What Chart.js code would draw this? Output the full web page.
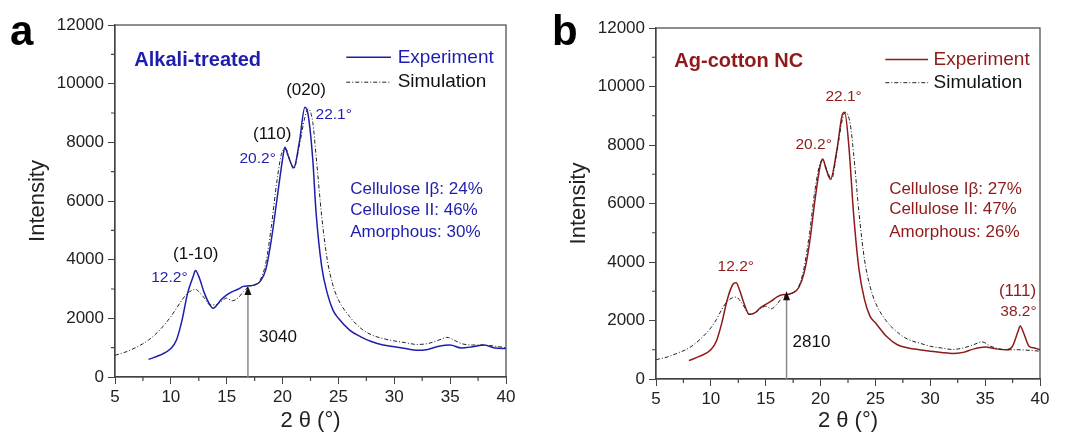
<!DOCTYPE html>
<html lang="en">
<head>
<meta charset="UTF-8">
<title>XRD cellulose</title>
<script src="https://cdn.jsdelivr.net/npm/chart.js"></script>
<style>
  body {
    margin: 0;
    background: #fff;
    width: 1069px;
    height: 438px;
    position: relative;
    overflow: hidden;
  }

  .pane {
    position: absolute;
    top: 0;
    height: 438px;
  }

  #pa { left: 0; width: 530px; }
  #pb { left: 530px; width: 539px; }
</style>
</head>
<body>
<div class="pane" id="pa"><canvas id="ca"></canvas></div>
<div class="pane" id="pb"><canvas id="cb"></canvas></div>

<script>
  // panel a: alkali-treated
  const aExpX = [8, 9, 10, 10.5, 11, 11.5, 12, 12.2, 12.5, 13, 13.5, 13.8, 14, 14.5, 15, 15.5, 16, 16.5, 17, 17.5, 18, 18.5, 19, 19.5, 20, 20.2, 20.5, 21, 21.5, 22, 22.3, 22.7, 23, 23.5, 24, 24.5, 25, 26, 27, 28, 29, 30, 31, 32, 33, 34, 35, 36, 37, 38, 39, 40];
  const aExpY = [600, 740, 970, 1260, 1940, 2860, 3430, 3630, 3430, 2860, 2460, 2340, 2400, 2630, 2800, 2910, 2990, 3090, 3110, 3140, 3260, 3660, 4690, 6060, 7430, 7830, 7540, 7140, 8000, 9200, 8910, 7430, 5600, 3770, 2860, 2290, 2000, 1600, 1370, 1200, 1090, 1030, 970, 910, 940, 1050, 1090, 990, 1030, 1090, 990, 970];
  const aSimX = [5, 6, 7, 8, 9, 10, 10.5, 11, 11.5, 12, 12.2, 12.5, 13, 13.5, 14, 14.5, 15, 15.5, 16, 16.5, 17, 17.5, 18, 18.5, 19, 19.5, 20, 20.3, 20.7, 21, 21.5, 22, 22.3, 22.7, 23, 23.5, 24, 24.5, 25, 26, 27, 28, 29, 30, 31, 32, 33, 34, 34.7, 35.5, 36, 37, 38, 39, 40];
  const aSimY = [740, 860, 1030, 1260, 1600, 2060, 2340, 2630, 2860, 2970, 2990, 2910, 2690, 2460, 2460, 2570, 2690, 2600, 2690, 2910, 3090, 3140, 3310, 3890, 5140, 6690, 7710, 7770, 7310, 7090, 7890, 8860, 9140, 8690, 7540, 5490, 4000, 3140, 2630, 2060, 1660, 1430, 1310, 1230, 1170, 1110, 1140, 1260, 1350, 1230, 1140, 1090, 1090, 1050, 1000];

  // panel b: Ag-cotton NC
  const bExpX = [8, 9, 10, 10.5, 11, 11.5, 12, 12.3, 12.6, 13, 13.5, 14, 14.5, 15, 15.5, 16, 16.5, 17, 17.5, 18, 18.5, 19, 19.5, 20, 20.2, 20.5, 20.9, 21.5, 22, 22.2, 22.6, 23, 23.5, 24, 24.5, 25, 26, 27, 28, 29, 30, 31, 32, 33, 34, 35, 36, 37, 37.5, 38, 38.2, 38.5, 39, 39.5, 40];
  const bExpY = [630, 780, 1000, 1290, 1920, 2720, 3230, 3290, 3060, 2610, 2210, 2260, 2430, 2550, 2660, 2800, 2880, 2890, 2950, 3120, 3630, 4660, 6150, 7350, 7520, 7180, 6830, 7860, 9060, 9120, 7860, 5690, 3750, 2720, 2150, 1920, 1460, 1170, 1060, 1000, 950, 910, 870, 910, 1030, 1090, 1030, 1000, 1120, 1630, 1810, 1580, 1120, 1060, 1000];
  const bSimX = [5, 6, 7, 8, 9, 10, 10.5, 11, 11.5, 12, 12.3, 12.7, 13, 13.5, 14, 14.5, 15, 15.5, 16, 16.5, 17, 17.5, 18, 18.5, 19, 19.5, 20, 20.2, 20.6, 21, 21.5, 22, 22.3, 22.7, 23, 23.5, 24, 24.5, 25, 26, 27, 28, 29, 30, 31, 32, 33, 34, 34.7, 35.5, 36, 37, 38, 39, 40];
  const bSimY = [660, 750, 890, 1060, 1350, 1750, 2030, 2380, 2660, 2780, 2800, 2660, 2490, 2210, 2260, 2400, 2490, 2400, 2550, 2780, 2890, 2950, 3150, 3810, 5010, 6490, 7410, 7460, 7120, 6830, 7800, 8890, 9120, 8720, 7750, 5690, 4090, 3180, 2610, 1980, 1600, 1350, 1230, 1120, 1060, 1010, 1060, 1180, 1270, 1120, 1060, 1000, 1000, 980, 950];

  // arrow marks at 2theta = 16.9
  const aArrow = { x: 16.9, y: 3100, label: '3040' };
  const bArrow = { x: 16.9, y: 3000, label: '2810' };

  const FF = '"Liberation Sans", Arial, sans-serif';
  const BLUE = '#1e1eae';
  const RED = '#8e1a1a';

  function pts(xs, ys) {
    return xs.map((v, i) => ({ x: v, y: ys[i] }));
  }

  const deco = {
    id: 'deco',
    afterDraw(ch) {
      const o = ch.options.plugins.deco;
      const { ctx, chartArea: a, scales: { x, y } } = ch;
      const px = v => x.getPixelForValue(v), py = v => y.getPixelForValue(v);
      ctx.save();
      ctx.strokeStyle = '#444';
      ctx.lineWidth = 1.2;
      ctx.strokeRect(a.left, a.top, a.right - a.left, a.bottom - a.top);
      // minor ticks
      ctx.beginPath();
      for (let v = 1000; v < 12000; v += 2000) {
        ctx.moveTo(a.left, py(v));
        ctx.lineTo(a.left - 4, py(v));
      }
      for (let v = 7.5; v < 40; v += 5) {
        ctx.moveTo(px(v), a.bottom);
        ctx.lineTo(px(v), a.bottom + 4);
      }
      ctx.stroke();

      // arrow
      const ax = px(o.arrow.x), ay = py(o.arrow.y);
      ctx.strokeStyle = '#8a8a8a';
      ctx.lineWidth = 1.5;
      ctx.beginPath();
      ctx.moveTo(ax, a.bottom);
      ctx.lineTo(ax, ay + 6);
      ctx.stroke();
      ctx.fillStyle = '#111';
      ctx.beginPath();
      ctx.moveTo(ax, ay);
      ctx.lineTo(ax - 3.5, ay + 9);
      ctx.lineTo(ax + 3.5, ay + 9);
      ctx.closePath();
      ctx.fill();

      // texts
      ctx.textBaseline = 'middle';
      o.texts.forEach(t => {
        ctx.font = t.f;
        ctx.fillStyle = t.c;
        ctx.textAlign = t.al || 'left';
        ctx.fillText(t.t, px(t.x), py(t.y));
      });

      // legend
      const lg = o.legend;
      ctx.font = '19px ' + FF;
      ctx.textAlign = 'left';
      ctx.lineWidth = 1.5;
      ctx.strokeStyle = o.color;
      ctx.beginPath();
      ctx.moveTo(px(lg.x0), py(lg.y1));
      ctx.lineTo(px(lg.x1), py(lg.y1));
      ctx.stroke();
      ctx.fillStyle = o.color;
      ctx.fillText('Experiment', px(lg.tx), py(lg.y1));
      ctx.strokeStyle = '#222';
      ctx.lineWidth = 1;
      ctx.setLineDash([4, 2, 1, 2]);
      ctx.beginPath();
      ctx.moveTo(px(lg.x0), py(lg.y2));
      ctx.lineTo(px(lg.x1), py(lg.y2));
      ctx.stroke();
      ctx.setLineDash([]);
      ctx.fillStyle = '#111';
      ctx.fillText('Simulation', px(lg.tx), py(lg.y2));

      // panel letter
      ctx.font = 'bold 42px ' + FF;
      ctx.textBaseline = 'alphabetic';
      ctx.fillStyle = '#000';
      ctx.fillText(o.tag, o.tagX, 45);
      ctx.restore();
    }
  };

  function mk(id, cfg) {
    return new Chart(document.getElementById(id), {
      type: 'line',
      data: {
        datasets: [{
          label: 'Simulation',
          data: pts(cfg.simX, cfg.simY),
          borderColor: '#222',
          borderWidth: 1,
          borderDash: [4, 2, 1, 2],
          pointRadius: 0,
          cubicInterpolationMode: 'monotone'
        }, {
          label: 'Experiment',
          data: pts(cfg.expX, cfg.expY),
          borderColor: cfg.color,
          borderWidth: 1.5,
          pointRadius: 0,
          cubicInterpolationMode: 'monotone'
        }]
      },
      options: {
        responsive: true,
        maintainAspectRatio: false,
        animation: false,
        layout: { padding: { left: 0, right: cfg.padR, top: cfg.padT, bottom: 0 } },
        plugins: {
          legend: { display: false },
          tooltip: { enabled: false },
          deco: cfg.deco
        },
        scales: {
          x: {
            type: 'linear',
            min: 5,
            max: 40,
            afterFit: s => { s.height = cfg.xH; },
            ticks: { stepSize: 5, color: '#222', font: { size: 17, family: FF }, padding: 3, maxRotation: 0, callback: v => String(v) },
            grid: { drawOnChartArea: false, tickLength: 7, color: '#444' },
            border: { color: '#444', width: 1.2 },
            title: { display: true, text: '2 θ (°)', color: '#222', font: { size: 22, family: FF }, padding: { top: 0, bottom: 4 } }
          },
          y: {
            min: 0,
            max: 12000,
            afterFit: s => { s.width = cfg.yW; },
            ticks: { stepSize: 2000, color: '#222', font: { size: 17, family: FF }, padding: 4, callback: v => String(v) },
            grid: { drawOnChartArea: false, tickLength: 7, color: '#444' },
            border: { color: '#444', width: 1.2 },
            title: { display: true, text: 'Intensity', color: '#222', font: { size: 22, family: FF }, padding: { top: cfg.yTitlePad, bottom: 0 } }
          }
        }
      },
      plugins: [deco]
    });
  }

  mk('ca', {
    expX: aExpX, expY: aExpY, simX: aSimX, simY: aSimY, color: BLUE,
    padR: 24, padT: 25, xH: 61, yW: 115, yTitlePad: 25,
    deco: {
      tag: 'a', tagX: 10, color: BLUE, arrow: aArrow,
      legend: { x0: 25.7, x1: 29.7, tx: 30.3, y1: 10900, y2: 10050 },
      texts: [
        { t: 'Alkali-treated', x: 6.73, y: 10800, c: BLUE, f: 'bold 20px ' + FF },
        { t: '(1-10)', x: 12.23, y: 4190, c: '#111', f: '17px ' + FF, al: 'center' },
        { t: '12.2°', x: 11.5, y: 3370, c: BLUE, f: '15.5px ' + FF, al: 'right' },
        { t: '(110)', x: 19.07, y: 8280, c: '#111', f: '17px ' + FF, al: 'center' },
        { t: '20.2°', x: 19.4, y: 7430, c: BLUE, f: '15.5px ' + FF, al: 'right' },
        { t: '(020)', x: 22.1, y: 9780, c: '#111', f: '17px ' + FF, al: 'center' },
        { t: '22.1°', x: 22.95, y: 8930, c: BLUE, f: '15.5px ' + FF },
        { t: aArrow.label, x: 17.9, y: 1350, c: '#111', f: '17px ' + FF },
        { t: 'Cellulose Iβ: 24%', x: 26.05, y: 6400, c: BLUE, f: '17px ' + FF },
        { t: 'Cellulose II: 46%', x: 26.05, y: 5690, c: BLUE, f: '17px ' + FF },
        { t: 'Amorphous: 30%', x: 26.05, y: 4940, c: BLUE, f: '17px ' + FF }
      ]
    }
  });

  mk('cb', {
    expX: bExpX, expY: bExpY, simX: bSimX, simY: bSimY, color: RED,
    padR: 29, padT: 28, xH: 59, yW: 126, yTitlePad: 36,
    deco: {
      tag: 'b', tagX: 22, color: RED, arrow: bArrow,
      legend: { x0: 25.9, x1: 29.8, tx: 30.3, y1: 10920, y2: 10130 },
      texts: [
        { t: 'Ag-cotton NC', x: 6.67, y: 10850, c: RED, f: 'bold 20px ' + FF },
        { t: '22.1°', x: 22.1, y: 9650, c: RED, f: '15.5px ' + FF, al: 'center' },
        { t: '20.2°', x: 19.37, y: 8010, c: RED, f: '15.5px ' + FF, al: 'center' },
        { t: '12.2°', x: 12.27, y: 3840, c: RED, f: '15.5px ' + FF, al: 'center' },
        { t: bArrow.label, x: 17.45, y: 1240, c: '#111', f: '17px ' + FF },
        { t: 'Cellulose Iβ: 27%', x: 26.25, y: 6500, c: RED, f: '17px ' + FF },
        { t: 'Cellulose II: 47%', x: 26.25, y: 5790, c: RED, f: '17px ' + FF },
        { t: 'Amorphous: 26%', x: 26.25, y: 5000, c: RED, f: '17px ' + FF },
        { t: '(111)', x: 37.95, y: 2990, c: RED, f: '17px ' + FF, al: 'center' },
        { t: '38.2°', x: 38.04, y: 2300, c: RED, f: '15.5px ' + FF, al: 'center' }
      ]
    }
  });
</script>
</body>
</html>
